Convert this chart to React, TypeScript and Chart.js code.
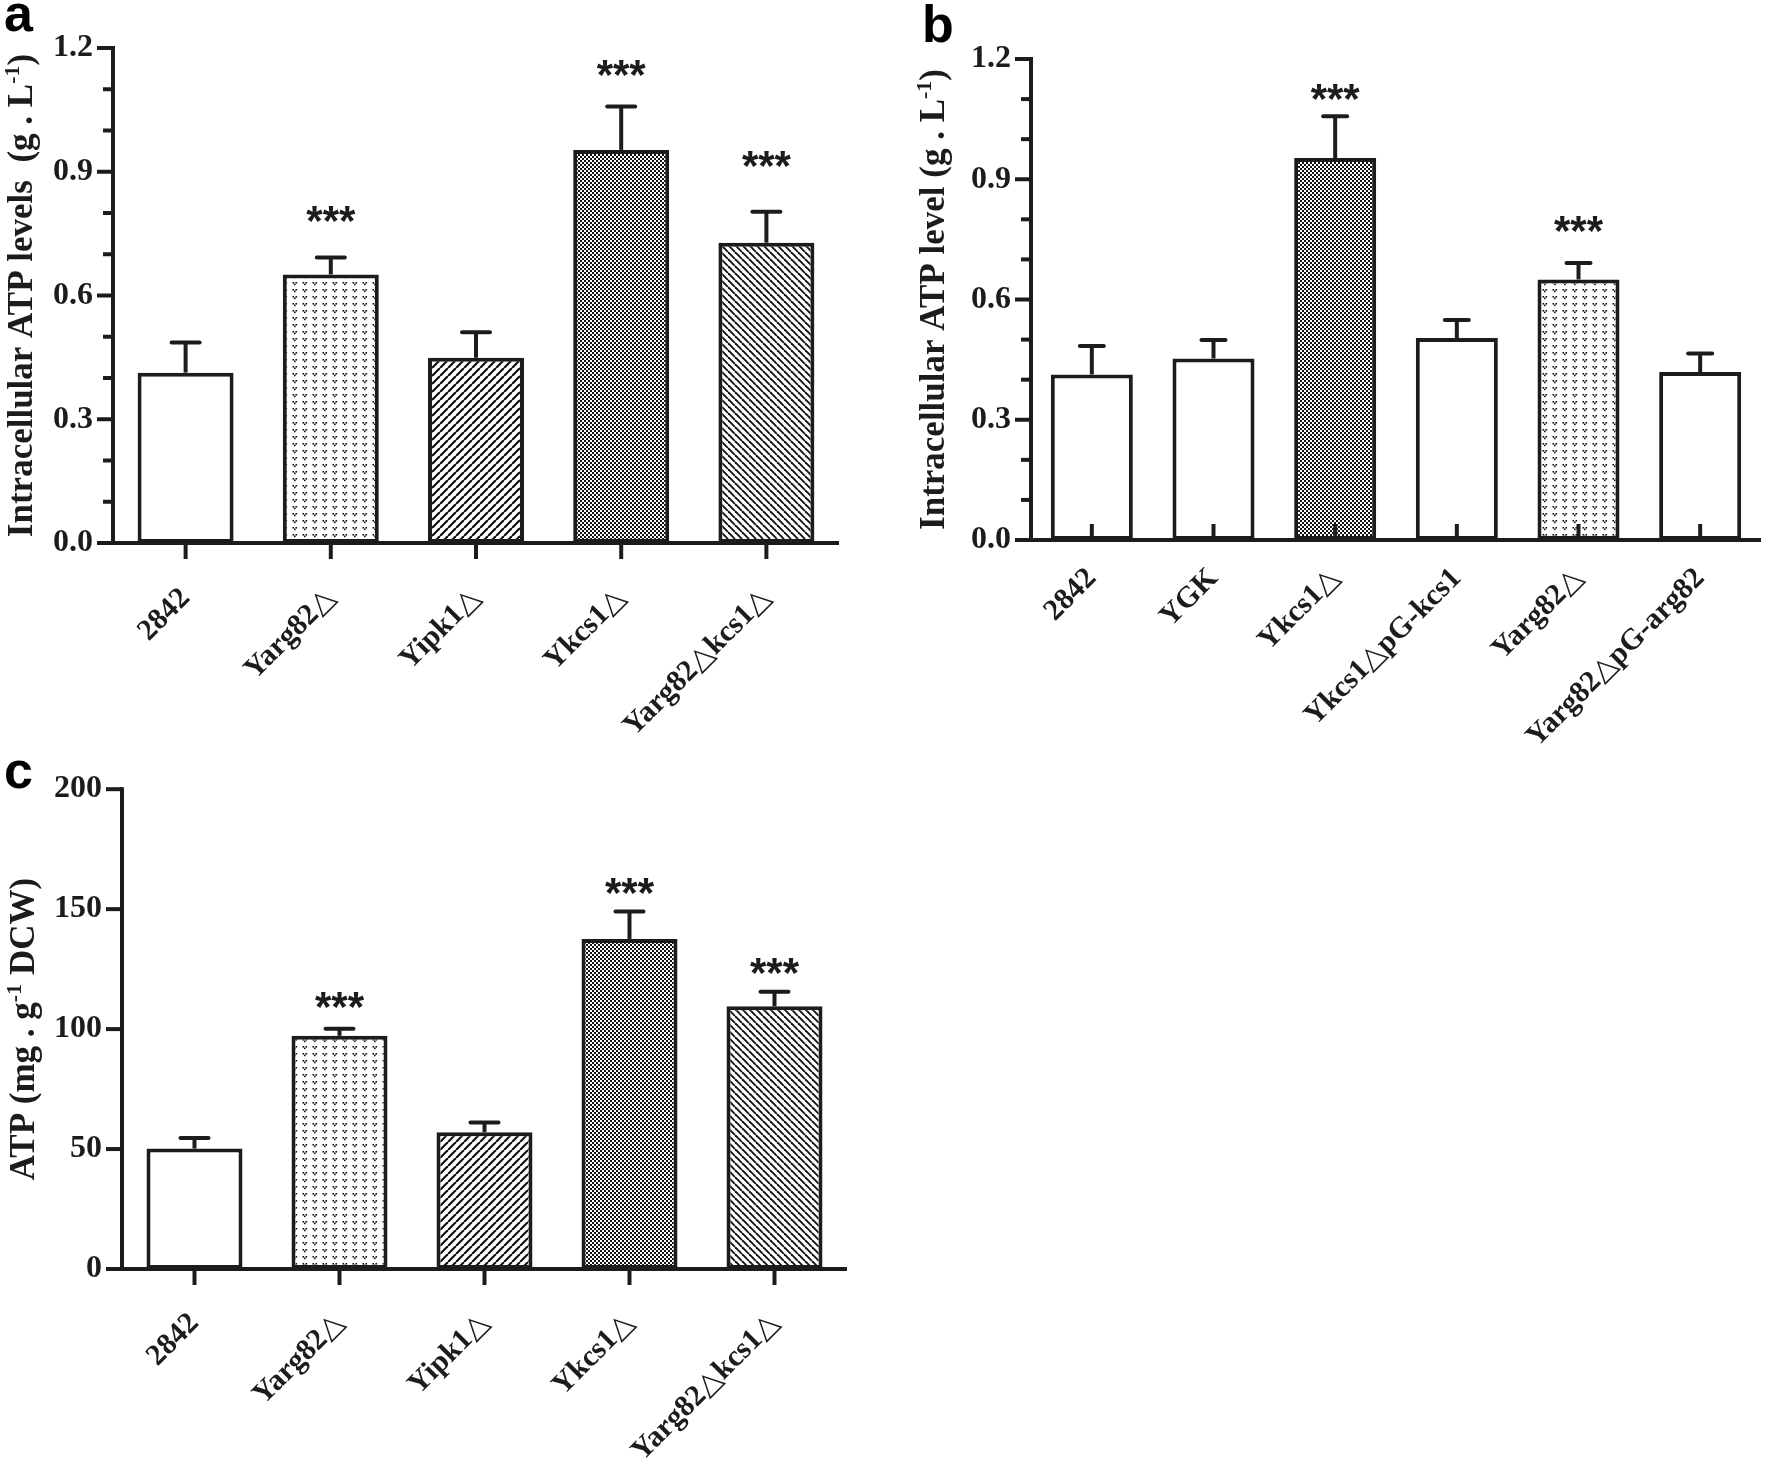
import React, { useEffect, useRef } from 'react';
import { Chart, registerables } from 'chart.js';

Chart.register(...registerables);

// ---------- Data ----------
const categoriesA = ['2842', 'Yarg82△', 'Yipk1△', 'Ykcs1△', 'Yarg82△kcs1△'];
const valuesA = [0.413, 0.651, 0.449, 0.953, 0.728];
const semA = [0.073, 0.041, 0.062, 0.105, 0.075];
const starLevelsA: (number | null)[] = [null, 0.797, null, 1.152, 0.93];
const yTicksA = [0, 0.3, 0.6, 0.9, 1.2];
const yMinorA = [0.1, 0.2, 0.4, 0.5, 0.7, 0.8, 1.0, 1.1];

const categoriesB = ['2842', 'YGK', 'Ykcs1△', 'Ykcs1△pG-kcs1', 'Yarg82△', 'Yarg82△pG-arg82'];
const valuesB = [0.413, 0.453, 0.953, 0.504, 0.65, 0.419];
const semB = [0.071, 0.046, 0.104, 0.045, 0.041, 0.046];
const starLevelsB: (number | null)[] = [null, null, 1.117, null, 0.789, null];
const yTicksB = [0, 0.3, 0.6, 0.9, 1.2];
const yMinorB = [0.1, 0.2, 0.4, 0.5, 0.7, 0.8, 1.0, 1.1];

const categoriesC = ['2842', 'Yarg82△', 'Yipk1△', 'Ykcs1△', 'Yarg82△kcs1△'];
const valuesC = [50.2, 97.2, 57.0, 137.6, 109.5];
const semC = [4.4, 2.9, 4.1, 11.4, 6.1];
const starLevelsC: (number | null)[] = [null, 112, null, 159.5, 126.5];
const yTicksC = [0, 50, 100, 150, 200];
const yMinorC: number[] = [];

// ---------- Styles ----------
const fillsA = ['white', 'vdots', 'slash', 'checker', 'backslash'];
const fillsB = ['white', 'white', 'checker', 'white', 'vdots', 'white'];
const fillsC = ['white', 'vdots', 'slash', 'checker', 'backslash'];

const INK = '#1c1c1c';
const SERIF = '"Liberation Serif", "Times New Roman", "DejaVu Serif", serif';
const SANS = '"Liberation Sans", Arial, sans-serif';

type Seg = { text: string; sup?: boolean };

function makeFill(key: string): CanvasPattern | string {
  if (key === 'white') return '#ffffff';
  const c = document.createElement('canvas');
  const g = c.getContext('2d')!;
  const bg = (w: number, h: number) => {
    c.width = w;
    c.height = h;
    g.fillStyle = '#ffffff';
    g.fillRect(0, 0, w, h);
    g.fillStyle = '#111';
    g.strokeStyle = '#111';
  };
  if (key === 'checker') {
    bg(4, 4);
    g.fillRect(0, 0, 2, 2);
    g.fillRect(2, 2, 2, 2);
  } else if (key === 'vdots') {
    bg(10, 7);
    g.fillRect(2.5, 2, 1.6, 1.6);
    g.fillRect(5.5, 2, 1.6, 1.6);
    g.fillRect(4, 3.6, 1.6, 1.6);
  } else if (key === 'slash') {
    bg(8, 8);
    g.lineWidth = 2.2;
    for (let k = -1; k <= 1; k++) {
      g.beginPath();
      g.moveTo(k * 8, 8);
      g.lineTo(k * 8 + 8, 0);
      g.stroke();
    }
  } else if (key === 'backslash') {
    bg(7, 7);
    g.lineWidth = 1.9;
    for (let k = -1; k <= 1; k++) {
      g.beginPath();
      g.moveTo(k * 7, 0);
      g.lineTo(k * 7 + 7, 7);
      g.stroke();
    }
  }
  return g.createPattern(c, 'repeat')!;
}

interface PanelCfg {
  left: number;
  top: number;
  width: number;
  height: number;
  area: { l: number; t: number; r: number; b: number };
  categories: string[];
  values: number[];
  sem: number[];
  starLevels: (number | null)[];
  fills: string[];
  yTicks: number[];
  yMinor: number[];
  yMax: number;
  decimals: number;
  title: Seg[];
  titleX: number;
  letter: string;
  letterX: number;
  letterY: number;
  xTickDir: 1 | -1;
  capWidth: number;
  labelPad: number;
  barPct: number;
}

function Panel({ cfg }: { cfg: PanelCfg }) {
  const ref = useRef<HTMLCanvasElement | null>(null);
  useEffect(() => {
    const canvas = ref.current!;
    const decor = {
      id: 'decor',
      afterDatasetsDraw(chart: any) {
        const ctx: CanvasRenderingContext2D = chart.ctx;
        const { left, right, top, bottom } = chart.chartArea;
        const ys = chart.scales.y;
        const meta = chart.getDatasetMeta(0);
        ctx.save();
        ctx.strokeStyle = INK;
        ctx.fillStyle = INK;
        // error bars
        ctx.lineWidth = 4;
        meta.data.forEach((bar: any, i: number) => {
          const x = bar.x;
          const y0 = ys.getPixelForValue(cfg.values[i]);
          const y1 = ys.getPixelForValue(cfg.values[i] + cfg.sem[i]);
          ctx.lineCap = 'butt';
          ctx.beginPath();
          ctx.moveTo(x, y0);
          ctx.lineTo(x, y1);
          ctx.stroke();
          ctx.lineCap = 'round';
          ctx.beginPath();
          ctx.moveTo(x - cfg.capWidth / 2, y1);
          ctx.lineTo(x + cfg.capWidth / 2, y1);
          ctx.stroke();
        });
        ctx.lineCap = 'butt';
        // axes
        ctx.lineWidth = 4;
        ctx.beginPath();
        ctx.moveTo(left, top - 2);
        ctx.lineTo(left, bottom + 2);
        ctx.stroke();
        ctx.beginPath();
        ctx.moveTo(left, bottom);
        ctx.lineTo(right, bottom);
        ctx.stroke();
        // y ticks
        cfg.yTicks.forEach((v) => {
          const y = ys.getPixelForValue(v);
          ctx.beginPath();
          ctx.moveTo(left - 16, y);
          ctx.lineTo(left, y);
          ctx.stroke();
        });
        cfg.yMinor.forEach((v) => {
          const y = ys.getPixelForValue(v);
          ctx.beginPath();
          ctx.moveTo(left - 10, y);
          ctx.lineTo(left, y);
          ctx.stroke();
        });
        // x ticks
        meta.data.forEach((bar: any) => {
          ctx.beginPath();
          ctx.moveTo(bar.x, bottom);
          ctx.lineTo(bar.x, bottom + 16 * cfg.xTickDir);
          ctx.stroke();
        });
        // stars
        ctx.font = `bold 42px ${SANS}`;
        ctx.textAlign = 'center';
        ctx.textBaseline = 'alphabetic';
        cfg.starLevels.forEach((lv, i) => {
          if (lv == null) return;
          const m = ctx.measureText('***');
          const yc = ys.getPixelForValue(lv);
          const y = yc + (m.actualBoundingBoxAscent - m.actualBoundingBoxDescent) / 2;
          ctx.fillText('***', meta.data[i].x, y);
        });
        // y title with superscript
        const mainFont = `bold 35px ${SERIF}`;
        const supFont = `bold 22px ${SERIF}`;
        let total = 0;
        const widths = cfg.title.map((s) => {
          ctx.font = s.sup ? supFont : mainFont;
          const w = ctx.measureText(s.text).width;
          total += w;
          return w;
        });
        ctx.save();
        ctx.translate(cfg.titleX, (top + bottom) / 2);
        ctx.rotate(-Math.PI / 2);
        ctx.textAlign = 'left';
        let x = -total / 2;
        cfg.title.forEach((s, i) => {
          ctx.font = s.sup ? supFont : mainFont;
          ctx.fillText(s.text, x, s.sup ? -13 : 0);
          x += widths[i];
        });
        ctx.restore();
        // panel letter
        ctx.font = `bold 52px ${SANS}`;
        ctx.textAlign = 'left';
        ctx.fillStyle = '#000';
        ctx.fillText(cfg.letter, cfg.letterX, cfg.letterY);
        ctx.restore();
      },
    };

    const chart = new Chart(canvas, {
      type: 'bar',
      data: {
        labels: cfg.categories,
        datasets: [
          {
            data: cfg.values,
            backgroundColor: cfg.fills.map(makeFill) as any,
            borderColor: INK,
            borderWidth: 4,
            borderSkipped: false,
            barPercentage: cfg.barPct,
            categoryPercentage: 1,
          },
        ],
      },
      options: {
        responsive: false,
        animation: false,
        devicePixelRatio: 1,
        layout: {
          padding: { left: 0, top: cfg.area.t, right: cfg.width - cfg.area.r, bottom: 0 },
        },
        plugins: {
          legend: { display: false },
          tooltip: { enabled: false },
          title: { display: false },
        },
        scales: {
          x: {
            grid: { display: false, drawTicks: false },
            border: { display: false },
            ticks: {
              color: INK,
              font: { family: SERIF, size: 30, weight: 'bold' },
              minRotation: 45,
              maxRotation: 45,
              autoSkip: false,
              padding: cfg.labelPad,
            },
            afterFit: (s: any) => {
              s.height = cfg.height - cfg.area.b;
            },
          },
          y: {
            min: 0,
            max: cfg.yMax,
            grid: { display: false, drawTicks: false },
            border: { display: false },
            ticks: {
              color: INK,
              font: { family: SERIF, size: 32, weight: 'bold' },
              padding: 20,
              callback: (v: any) => Number(v).toFixed(cfg.decimals),
            },
            afterBuildTicks: (s: any) => {
              s.ticks = cfg.yTicks.map((v) => ({ value: v }));
            },
            afterFit: (s: any) => {
              s.width = cfg.area.l;
            },
          },
        },
      } as any,
      plugins: [decor],
    });
    return () => chart.destroy();
  }, [cfg]);
  return (
    <canvas
      ref={ref}
      width={cfg.width}
      height={cfg.height}
      style={{ position: 'absolute', left: cfg.left, top: cfg.top, width: cfg.width, height: cfg.height }}
    />
  );
}

const panelA: PanelCfg = {
  left: 0, top: 0, width: 880, height: 750,
  area: { l: 113, t: 48, r: 839, b: 543 },
  categories: categoriesA, values: valuesA, sem: semA, starLevels: starLevelsA,
  fills: fillsA, yTicks: yTicksA, yMinor: yMinorA, yMax: 1.2, decimals: 1,
  title: [{ text: 'Intracellular ATP levels  (g . L' }, { text: '-1', sup: true }, { text: ')' }],
  titleX: 32, letter: 'a', letterX: 4, letterY: 31,
  xTickDir: 1, capWidth: 28, labelPad: 38, barPct: 0.661,
};

const panelB: PanelCfg = {
  left: 880, top: 0, width: 890, height: 750,
  area: { l: 151, t: 59, r: 881, b: 540 },
  categories: categoriesB, values: valuesB, sem: semB, starLevels: starLevelsB,
  fills: fillsB, yTicks: yTicksB, yMinor: yMinorB, yMax: 1.2, decimals: 1,
  title: [{ text: 'Intracellular ATP level (g . L' }, { text: '-1', sup: true }, { text: ')' }],
  titleX: 64, letter: 'b', letterX: 42, letterY: 42,
  xTickDir: -1, capWidth: 24, labelPad: 21, barPct: 0.674,
};

const panelC: PanelCfg = {
  left: 0, top: 750, width: 880, height: 710,
  area: { l: 122, t: 37, r: 847, b: 519 },
  categories: categoriesC, values: valuesC, sem: semC, starLevels: starLevelsC,
  fills: fillsC, yTicks: yTicksC, yMinor: yMinorC, yMax: 200, decimals: 0,
  title: [{ text: 'ATP (mg . g' }, { text: '-1', sup: true }, { text: ' DCW)' }],
  titleX: 34, letter: 'c', letterX: 4, letterY: 38,
  xTickDir: 1, capWidth: 28, labelPad: 37, barPct: 0.662,
};

export default function App() {
  return (
    <div style={{ position: 'absolute', left: 0, top: 0, width: 1770, height: 1460, background: '#fff', overflow: 'hidden' }}>
      <Panel cfg={panelA} />
      <Panel cfg={panelB} />
      <Panel cfg={panelC} />
    </div>
  );
}
